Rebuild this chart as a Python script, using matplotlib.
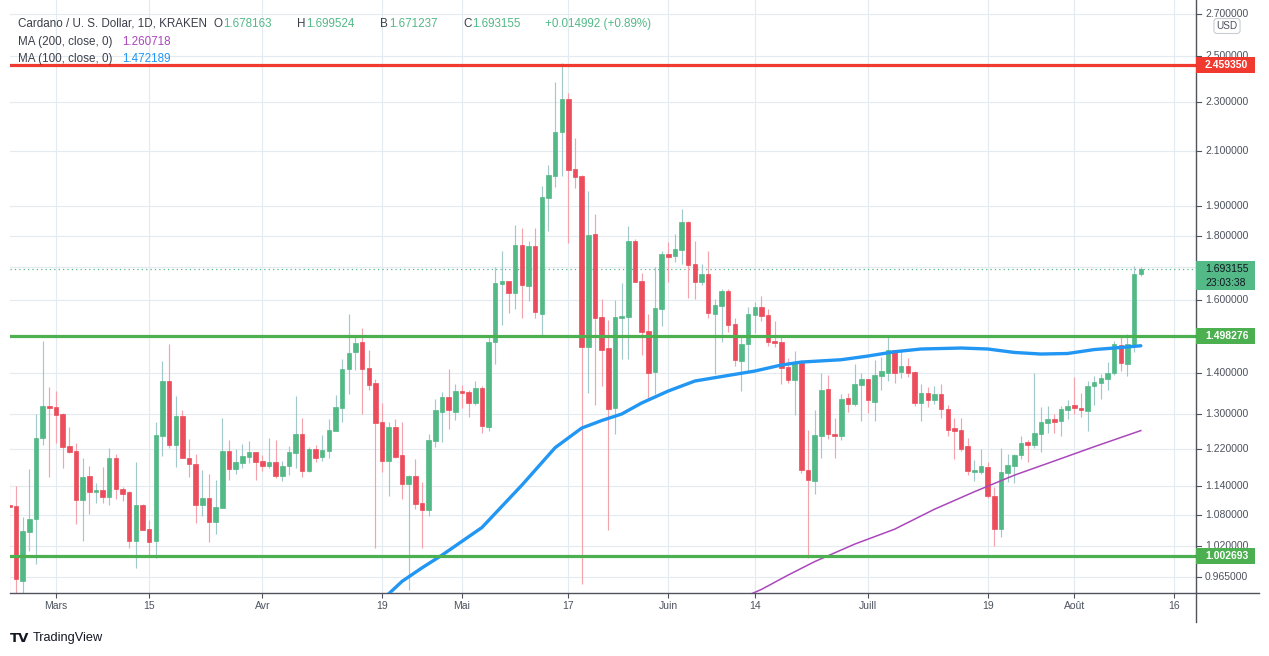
import numpy as np
import pandas as pd
import matplotlib
matplotlib.use("Agg")
import matplotlib.pyplot as plt
import matplotlib.transforms as mtrans
from matplotlib.patches import Rectangle
from matplotlib.lines import Line2D

plt.rcParams['font.family'] = ['Liberation Sans', 'DejaVu Sans']

# ---------------- data (daily candles from 2021-02-22) ----------------
start_date = "2021-02-22"
opens = [1.100, 1.098, 0.958, 1.048, 1.073, 1.244, 1.319, 1.316, 1.300, 1.226,
         1.215, 1.111, 1.160, 1.127, 1.131, 1.117, 1.199, 1.133, 1.127, 1.031,
         1.100, 1.053, 1.031, 1.249, 1.380, 1.229, 1.295, 1.199, 1.186, 1.101,
         1.115, 1.067, 1.095, 1.215, 1.176, 1.189, 1.202, 1.212, 1.193, 1.182,
         1.190, 1.161, 1.182, 1.211, 1.253, 1.172, 1.219, 1.202, 1.215, 1.260,
         1.315, 1.412, 1.456, 1.482, 1.414, 1.375, 1.281, 1.193, 1.269, 1.206,
         1.144, 1.160, 1.104, 1.090, 1.238, 1.305, 1.341, 1.305, 1.355, 1.353,
         1.326, 1.363, 1.269, 1.481, 1.649, 1.656, 1.622, 1.770, 1.643, 1.767,
         1.559, 1.930, 2.009, 2.176, 2.313, 2.035, 2.008, 1.470, 1.806, 1.552,
         1.466, 1.315, 1.550, 1.552, 1.783, 1.657, 1.512, 1.403, 1.575, 1.741,
         1.735, 1.754, 1.846, 1.710, 1.655, 1.679, 1.561, 1.584, 1.627, 1.532,
         1.433, 1.478, 1.558, 1.580, 1.557, 1.485, 1.482, 1.417, 1.384, 1.427,
         1.173, 1.150, 1.249, 1.360, 1.253, 1.249, 1.338, 1.323, 1.371, 1.385,
         1.328, 1.393, 1.400, 1.461, 1.403, 1.419, 1.403, 1.326, 1.350, 1.333,
         1.348, 1.311, 1.267, 1.262, 1.226, 1.169, 1.169, 1.179, 1.119, 1.054,
         1.167, 1.182, 1.206, 1.235, 1.228, 1.253, 1.278, 1.288, 1.283, 1.309,
         1.321, 1.314, 1.307, 1.368, 1.375, 1.385, 1.401, 1.474, 1.424, 1.474,
         1.678163]
highs = [1.148, 1.139, 1.077, 1.175, 1.300, 1.485, 1.365, 1.355, 1.301, 1.269,
         1.232, 1.199, 1.182, 1.145, 1.179, 1.221, 1.207, 1.138, 1.129, 1.190,
         1.103, 1.071, 1.281, 1.432, 1.477, 1.343, 1.309, 1.242, 1.208, 1.173,
         1.165, 1.152, 1.290, 1.239, 1.219, 1.230, 1.237, 1.213, 1.206, 1.244,
         1.239, 1.193, 1.226, 1.343, 1.290, 1.223, 1.228, 1.251, 1.288, 1.346,
         1.437, 1.560, 1.499, 1.521, 1.461, 1.385, 1.326, 1.281, 1.288, 1.281,
         1.162, 1.197, 1.148, 1.253, 1.335, 1.353, 1.412, 1.372, 1.370, 1.358,
         1.380, 1.368, 1.497, 1.700, 1.751, 1.658, 1.836, 1.826, 1.784, 1.826,
         1.971, 2.048, 2.385, 2.470, 2.337, 2.153, 2.010, 1.954, 1.874, 1.604,
         1.543, 1.601, 1.651, 1.833, 1.790, 1.681, 1.560, 1.699, 1.751, 1.780,
         1.806, 1.890, 1.849, 1.783, 1.710, 1.751, 1.604, 1.632, 1.633, 1.549,
         1.497, 1.580, 1.596, 1.612, 1.575, 1.541, 1.496, 1.440, 1.458, 1.435,
         1.262, 1.309, 1.401, 1.396, 1.290, 1.347, 1.350, 1.424, 1.401, 1.386,
         1.434, 1.442, 1.497, 1.462, 1.458, 1.440, 1.406, 1.373, 1.365, 1.368,
         1.373, 1.321, 1.290, 1.290, 1.244, 1.195, 1.219, 1.190, 1.138, 1.221,
         1.208, 1.208, 1.248, 1.239, 1.401, 1.316, 1.319, 1.300, 1.319, 1.333,
         1.390, 1.350, 1.380, 1.393, 1.398, 1.429, 1.485, 1.497, 1.503, 1.703,
         1.699524]
lows = [0.920, 0.920, 0.930, 1.012, 0.988, 1.229, 1.159, 1.233, 1.178, 1.209,
        1.063, 1.031, 1.083, 1.105, 1.105, 1.101, 1.113, 1.109, 1.017, 0.981,
        1.051, 1.001, 0.998, 1.204, 1.222, 1.180, 1.198, 1.159, 1.064, 1.079,
        1.029, 1.044, 1.095, 1.152, 1.165, 1.178, 1.189, 1.152, 1.171, 1.178,
        1.157, 1.150, 1.163, 1.178, 1.159, 1.169, 1.191, 1.193, 1.198, 1.260,
        1.281, 1.349, 1.409, 1.300, 1.359, 1.018, 1.169, 1.119, 1.198, 1.113,
        0.942, 1.093, 1.017, 1.079, 1.223, 1.234, 1.265, 1.285, 1.313, 1.293,
        1.322, 1.255, 1.260, 1.425, 1.530, 1.562, 1.574, 1.550, 1.599, 1.550,
        1.499, 1.817, 1.968, 2.009, 1.778, 1.966, 0.952, 1.350, 1.322, 1.369,
        1.051, 1.254, 1.438, 1.438, 1.655, 1.447, 1.335, 1.349, 1.525, 1.655,
        1.716, 1.710, 1.607, 1.604, 1.645, 1.550, 1.398, 1.483, 1.511, 1.419,
        1.356, 1.407, 1.508, 1.541, 1.472, 1.470, 1.374, 1.375, 1.298, 1.167,
        0.998, 1.123, 1.200, 1.242, 1.198, 1.239, 1.304, 1.319, 1.283, 1.302,
        1.283, 1.358, 1.380, 1.375, 1.388, 1.390, 1.319, 1.283, 1.316, 1.323,
        1.290, 1.248, 1.197, 1.215, 1.163, 1.150, 1.165, 1.115, 1.020, 1.037,
        1.148, 1.146, 1.197, 1.190, 1.221, 1.212, 1.255, 1.255, 1.248, 1.288,
        1.300, 1.292, 1.260, 1.321, 1.336, 1.358, 1.396, 1.406, 1.393, 1.455,
        1.671237]
closes = [1.097, 0.962, 1.049, 1.073, 1.244, 1.319, 1.315, 1.296, 1.224, 1.213,
          1.111, 1.158, 1.127, 1.131, 1.117, 1.199, 1.132, 1.123, 1.031, 1.100,
          1.052, 1.029, 1.250, 1.380, 1.229, 1.295, 1.200, 1.185, 1.101, 1.115,
          1.067, 1.096, 1.215, 1.176, 1.190, 1.204, 1.212, 1.190, 1.182, 1.190,
          1.161, 1.182, 1.212, 1.253, 1.172, 1.219, 1.200, 1.217, 1.262, 1.316,
          1.411, 1.453, 1.480, 1.412, 1.371, 1.279, 1.193, 1.269, 1.202, 1.144,
          1.160, 1.103, 1.090, 1.239, 1.309, 1.341, 1.308, 1.355, 1.350, 1.326,
          1.363, 1.272, 1.481, 1.652, 1.656, 1.622, 1.770, 1.646, 1.767, 1.565,
          1.933, 2.012, 2.176, 2.313, 2.031, 2.005, 1.470, 1.802, 1.550, 1.462,
          1.311, 1.552, 1.555, 1.783, 1.655, 1.511, 1.400, 1.577, 1.741, 1.733,
          1.757, 1.846, 1.706, 1.655, 1.679, 1.564, 1.586, 1.627, 1.530, 1.435,
          1.477, 1.560, 1.580, 1.555, 1.483, 1.480, 1.414, 1.384, 1.427, 1.174,
          1.152, 1.250, 1.358, 1.254, 1.249, 1.336, 1.324, 1.373, 1.385, 1.333,
          1.396, 1.406, 1.461, 1.400, 1.419, 1.401, 1.326, 1.350, 1.333, 1.348,
          1.311, 1.262, 1.260, 1.219, 1.172, 1.173, 1.182, 1.119, 1.054, 1.169,
          1.184, 1.206, 1.232, 1.228, 1.255, 1.281, 1.288, 1.281, 1.311, 1.319,
          1.314, 1.309, 1.368, 1.378, 1.388, 1.401, 1.477, 1.427, 1.477, 1.679,
          1.693155]

ma100_dates = ["2021-04-19", "2021-04-22", "2021-04-25", "2021-04-28", "2021-05-04",
               "2021-05-10", "2021-05-15", "2021-05-19", "2021-05-22", "2021-05-25",
               "2021-05-28", "2021-06-01", "2021-06-05", "2021-06-09", "2021-06-14",
               "2021-06-18", "2021-06-21", "2021-06-27", "2021-07-01", "2021-07-05",
               "2021-07-09", "2021-07-15", "2021-07-19", "2021-07-23", "2021-07-27",
               "2021-07-31", "2021-08-04", "2021-08-08", "2021-08-11"]
ma100_vals = [0.925, 0.957, 0.981, 1.004, 1.056, 1.141, 1.222, 1.2666, 1.2841, 1.2995,
              1.3259, 1.3553, 1.3803, 1.3916, 1.4057, 1.4213, 1.4290, 1.4351, 1.4448,
              1.4562, 1.4635, 1.4661, 1.4635, 1.4543, 1.4501, 1.4515, 1.4620, 1.4675,
              1.472189]
ma200_dates = ["2021-06-13", "2021-06-15", "2021-06-19", "2021-06-23", "2021-06-29",
               "2021-07-05", "2021-07-11", "2021-07-17", "2021-07-23", "2021-07-29",
               "2021-08-04", "2021-08-11"]
ma200_vals = [0.933, 0.943, 0.968, 0.9922, 1.0244, 1.0527, 1.0919, 1.1274, 1.1620,
              1.1925, 1.2241, 1.260718]

resist_red = 2.459350
level_green_hi = 1.498276
level_green_lo = 1.002693
last_price = 1.693155

price_ticks = [2.7, 2.5, 2.3, 2.1, 1.9, 1.8, 1.7, 1.6, 1.5, 1.4, 1.3, 1.22, 1.14,
               1.08, 1.02, 0.965]
date_ticks = ["2021-03-01", "2021-03-15", "2021-04-01", "2021-04-19", "2021-05-01",
              "2021-05-17", "2021-06-01", "2021-06-14", "2021-07-01", "2021-07-19",
              "2021-08-01", "2021-08-16"]
date_labels = ["Mars", "15", "Avr", "19", "Mai", "17", "Juin", "14", "Juill", "19",
               "Août", "16"]

# ---------------- styling ----------------
W, H = 1269, 656
UP, DOWN = "#53b987", "#eb4d5c"
UP_WICK, DOWN_WICK = "#a3c8c9", "#f4a2ab"
GRID = "#e3ebf1"
AXC = "#50535e"
TXT = "#4c525e"

ref = pd.Timestamp("2021-03-01")
def dnum(s):
    return (pd.Timestamp(s) - ref).days

dates = pd.date_range(start_date, periods=len(opens), freq="D")
x = np.array([(d - ref).days for d in dates], dtype=float)
o = np.array(opens); h = np.array(highs); l = np.array(lows); c = np.array(closes)
up = c >= o

fig = plt.figure(figsize=(W / 100, H / 100), dpi=100)
fig.patch.set_facecolor("white")
ax = fig.add_axes([10 / W, 1 - 593 / H, (1195.5 - 10) / W, 593 / H])
ax.set_yscale("log")
ax.set_ylim(0.93685, 2.770)
ax.set_xlim(-6.91, 171.22)
ax.yaxis.set_major_locator(matplotlib.ticker.NullLocator())
ax.yaxis.set_minor_locator(matplotlib.ticker.NullLocator())
for s in ["left", "top", "right"]:
    ax.spines[s].set_visible(False)
ax.spines["bottom"].set_color(AXC)
ax.spines["bottom"].set_linewidth(1.0)

# grid
for p in price_ticks:
    ax.axhline(p, color=GRID, lw=0.8, zorder=0)
tick_x = [dnum(s) for s in date_ticks]
for tx in tick_x:
    ax.axvline(tx, color=GRID, lw=0.8, zorder=0)

# candles
ax.vlines(x, l, h, colors=np.where(up, UP_WICK, DOWN_WICK), lw=0.85, zorder=2)
body_bot = np.minimum(o, c)
body_h = np.abs(c - o)
cols = np.where(up, UP, DOWN)
ax.bar(x, body_h, bottom=body_bot, width=0.68, color=cols, edgecolor=cols,
       linewidth=0.5, zorder=3)

# current price dotted line
ax.axhline(last_price, color=UP, lw=0.9, ls=(0, (1, 2.5)), zorder=1.5)

# moving averages
ax.plot([dnum(s) for s in ma100_dates], ma100_vals, color="#2196f3", lw=2.4,
        zorder=5, solid_capstyle="round")
ax.plot([dnum(s) for s in ma200_dates], ma200_vals, color="#ab47bc", lw=1.1,
        zorder=5)

# horizontal levels
ax.axhline(resist_red, color="#f0392f", lw=2.3, zorder=6)
ax.axhline(level_green_hi, color="#4caf50", lw=2.3, zorder=6)
ax.axhline(level_green_lo, color="#4caf50", lw=2.3, zorder=6)

# x ticks
ax.set_xticks(tick_x)
ax.set_xticklabels(date_labels)
ax.tick_params(axis="x", length=3.6, width=0.8, color=AXC, pad=2.5,
               labelsize=7.5, labelcolor=TXT)

# price axis
blend = mtrans.blended_transform_factory(fig.transFigure, ax.transData)
for p in price_ticks:
    ax.add_line(Line2D([1196 / W, 1201 / W], [p, p], transform=blend, color=AXC,
                       lw=0.8, clip_on=False))
    ax.text(1205 / W, p, "%.6f" % p, transform=blend, fontsize=7.5, color=TXT,
            va="center", ha="left", clip_on=False, zorder=1)

fig.add_artist(Line2D([1195.5 / W, 1195.5 / W], [1 - 622 / H, 1], color=AXC, lw=1.0))
fig.add_artist(Line2D([1195.5 / W, 1259 / W], [1 - 593 / H, 1 - 593 / H], color=AXC,
                      lw=1.0))

def ypix(price):
    return ax.transData.transform((0, price))[1]

def price_box(price, fc, tc, lines, top_off, bot_off):
    yd = ypix(price)
    y0 = yd - bot_off
    hgt = top_off + bot_off
    fig.add_artist(Rectangle((1196 / W, y0 / H), (1255 - 1196) / W, hgt / H,
                             transform=fig.transFigure, fc=fc, ec="none", zorder=10))
    n = len(lines)
    for i, t in enumerate(lines):
        ty = yd + top_off - (i + 0.5) * hgt / n
        fig.text(1205 / W, ty / H, t, fontsize=7.5, color=tc, va="center",
                 ha="left", fontweight="bold" if tc == "white" else "normal",
                 zorder=11)

price_box(resist_red, "#f0392f", "white", ["%.6f" % resist_red], 8, 8)
price_box(level_green_hi, "#4caf50", "white", ["%.6f" % level_green_hi], 8, 8)
price_box(level_green_lo, "#4caf50", "white", ["%.6f" % level_green_lo], 8, 8)
price_box(last_price, UP, "#131722", ["%.6f" % last_price, "23:03:38"], 8, 21)

fig.text(1227 / W, 1 - 26 / H, "USD", fontsize=7.2, color=TXT, ha="center",
         va="center", zorder=12,
         bbox=dict(boxstyle="round,pad=0.25,rounding_size=0.3", fc="white",
                   ec="#c9ccd2", lw=0.8))

# header
HC = "#3b3f4a"
def ftxt(px, py, t, col, **kw):
    fig.text(px / W, 1 - py / H, t, fontsize=8.4, color=col, va="center", ha="left", **kw)

ftxt(18, 24, "Cardano / U. S. Dollar, 1D, KRAKEN", HC)
for lx, lab, val in [(214, "O", opens[-1]), (297, "H", highs[-1]),
                     (380, "B", lows[-1]), (463, "C", closes[-1])]:
    ftxt(lx, 24, lab, HC)
    ftxt(lx + 9, 24, "%.6f" % val, UP)
chg = closes[-1] - opens[-1]
ftxt(545, 24, "%+.6f (%+.2f%%)" % (chg, 0.89), UP)
ftxt(18, 42, "MA (200, close, 0)", HC)
ftxt(122, 42, "%.6f" % ma200_vals[-1], "#ab47bc")
ftxt(18, 59, "MA (100, close, 0)", HC)
ftxt(122, 59, "%.6f" % ma100_vals[-1], "#2196f3")

# logo
fig.text(10 / W, 1 - 638 / H, "TV", fontsize=9.5, color="#131722", va="center",
         ha="left", fontweight="heavy", family="DejaVu Sans")
fig.text(33 / W, 1 - 638 / H, "TradingView", fontsize=9.2, color="#131722",
         va="center", ha="left")

fig.savefig("out.png", dpi=100, facecolor="white")
